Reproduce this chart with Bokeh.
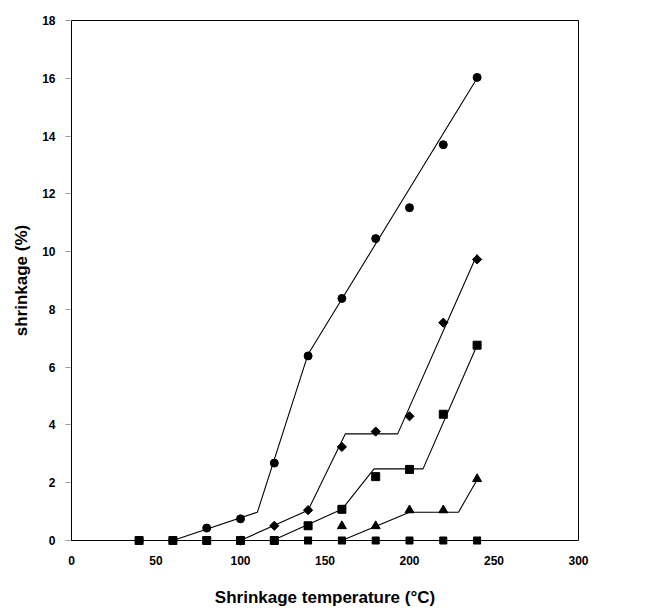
from bokeh.plotting import figure
from bokeh.embed import file_html
from bokeh.resources import INLINE
from bokeh.models import Range1d, FixedTicker
import math

# Measured data (shrinkage %, vs shrinkage temperature °C)
temps = [40, 60, 80, 100, 120, 140, 160, 180, 200, 220, 240]
circle_y = [0, 0, 0.43, 0.75, 2.68, 6.39, 8.38, 10.45, 11.52, 13.7, 16.03]
diamond_x = [100, 120, 140, 160, 180, 200, 220, 240]
diamond_y = [0, 0.51, 1.05, 3.24, 3.77, 4.30, 7.54, 9.73]
square_y = [0, 0, 0, 0, 0, 0.51, 1.08, 2.21, 2.46, 4.37, 6.76]
triangle_x = [160, 180, 200, 220, 240]
triangle_y = [0.50, 0.50, 1.05, 1.05, 2.13]
zero_sq_y = [0, 0, 0, 0, 0, 0, 0, 0, 0, 0, 0]
cross_x = [140, 160, 240]
cross_y = [0, 0, 0]

# Piecewise fitted lines (breakpoints)
fit1_x = [0, 60, 110, 140, 240]
fit1_y = [0, 0, 0.98, 6.45, 16.0]
fit2_x = [100, 140, 162, 193, 240]
fit2_y = [0, 1.05, 3.69, 3.69, 9.9]
fit3_x = [119, 160, 179, 208, 240]
fit3_y = [0, 1.08, 2.48, 2.48, 6.76]
fit4_x = [160, 200, 229, 240]
fit4_y = [0, 0.98, 0.98, 2.1]
fit5_x = [0, 265]
fit5_y = [0, 0]

x_min, x_max = 0, 300
y_min, y_max = 0, 18
x_ticks = [0, 50, 100, 150, 200, 250, 300]
y_ticks = [0, 2, 4, 6, 8, 10, 12, 14, 16, 18]

# box is 507 x 520 px; pad the frame by 6 px so markers on the box edge are not clipped
pad = 6
box_w, box_h = 507, 520
xpad = (x_max - x_min) / box_w * pad
ypad = (y_max - y_min) / box_h * pad

p = figure(width=645, height=612, output_backend="svg", toolbar_location=None,
           x_range=Range1d(x_min - xpad, x_max + xpad),
           y_range=Range1d(y_min - ypad, y_max + ypad),
           min_border_left=71 - pad, min_border_right=67 - pad,
           min_border_top=20 - pad, min_border_bottom=72 - pad)
p.grid.visible = False
p.outline_line_color = None
p.background_fill_color = "white"
p.border_fill_color = "white"

# the plot box
p.quad(left=[x_min], right=[x_max], bottom=[y_min], top=[y_max],
       fill_color=None, line_color="black", line_width=1)

font = "Liberation Sans"
p.xaxis.ticker = FixedTicker(ticks=x_ticks)
p.yaxis.ticker = FixedTicker(ticks=y_ticks)
for ax in (p.xaxis, p.yaxis):
    ax.axis_line_color = None
    ax.minor_tick_line_color = None
    ax.major_label_text_font = font
    ax.major_label_text_font_style = "bold"
    ax.major_label_text_font_size = "12px"
    ax.major_label_text_color = "black"
    ax.axis_label_text_font = font
    ax.axis_label_text_font_style = "bold"
    ax.axis_label_text_font_size = "17px"
    ax.axis_label_text_color = "black"
p.xaxis.major_tick_line_color = None
p.xaxis.major_tick_out = 0
p.xaxis.major_tick_in = 0
p.xaxis.major_label_standoff = 9
p.xaxis.axis_label = "Shrinkage temperature (°C)"
p.xaxis.axis_label_standoff = 20
p.yaxis.major_tick_out = 0
p.yaxis.major_tick_in = 5
p.yaxis.major_tick_line_color = "#999999"
p.yaxis.major_label_standoff = 10
p.yaxis.axis_label = "shrinkage (%)"
p.yaxis.axis_label_standoff = 8

lw = 1.1
p.line(fit5_x, fit5_y, line_color="black", line_width=lw)
p.line(fit1_x, fit1_y, line_color="black", line_width=lw)
p.line(fit2_x, fit2_y, line_color="black", line_width=lw)
p.line(fit3_x, fit3_y, line_color="black", line_width=lw)
p.line(fit4_x, fit4_y, line_color="black", line_width=lw)

p.scatter(temps, zero_sq_y, marker="square", size=7, color="black")
p.scatter(cross_x, cross_y, marker="x", size=10, line_color="black", line_width=1.5)
p.scatter(temps, circle_y, marker="circle", size=8, color="black")
p.scatter(diamond_x, diamond_y, marker="square", angle=math.pi / 4, size=6.5, color="black")
p.scatter(temps, square_y, marker="square", size=8, color="black")
p.scatter(triangle_x, triangle_y, marker="triangle", size=9, color="black")

open("out.html", "w").write(file_html(p, INLINE))
